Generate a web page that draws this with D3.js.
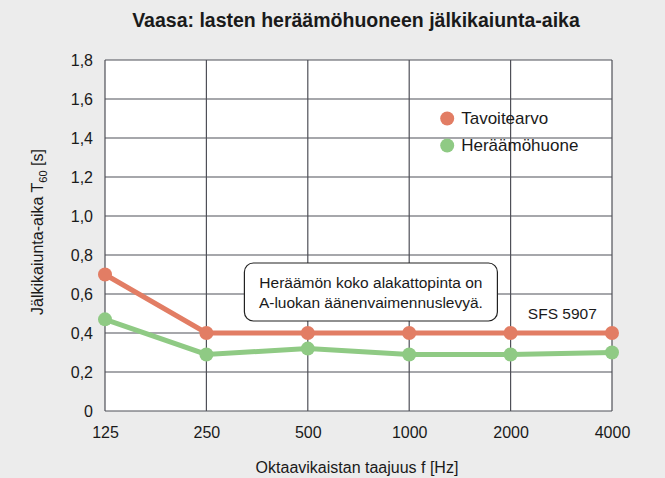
<!DOCTYPE html>
<html>
<head>
<meta charset="utf-8">
<script src="https://cdn.jsdelivr.net/npm/d3@7"></script>
<style>
  body { margin: 0; background: #ececec; }
  text { font-family: "Liberation Sans", Arial, sans-serif; fill: #1a1a1a; }
</style>
</head>
<body>
<div id="chart"></div>
<script>
const frequencies = ["125", "250", "500", "1000", "2000", "4000"];
const targetValues = [0.70, 0.40, 0.40, 0.40, 0.40, 0.40];
const roomValues = [0.47, 0.29, 0.32, 0.29, 0.29, 0.30];
const yTicks = [0, 0.2, 0.4, 0.6, 0.8, 1.0, 1.2, 1.4, 1.6, 1.8];
const seriesNames = ["Tavoitearvo", "Heräämöhuone"];
const seriesColors = ["#e27d64", "#8fca84"];

const width = 665;
const height = 478;
const margin = { top: 60, right: 53, bottom: 67, left: 105 };

const svg = d3.select("#chart").append("svg")
    .attr("width", width)
    .attr("height", height);

const x = d3.scalePoint()
    .domain(frequencies)
    .range([margin.left, width - margin.right]);

const y = d3.scaleLinear()
    .domain([0, 1.8])
    .range([height - margin.bottom, margin.top]);

const fmt = d => d === 0 ? "0" : d3.format(".1f")(d).replace(".", ",");

// plot background
svg.append("rect")
    .attr("x", margin.left)
    .attr("y", margin.top)
    .attr("width", width - margin.left - margin.right)
    .attr("height", height - margin.top - margin.bottom)
    .attr("fill", "#fff");

// grid
svg.append("g")
    .selectAll("line")
    .data(yTicks)
    .enter().append("line")
    .attr("x1", margin.left)
    .attr("x2", width - margin.right)
    .attr("y1", d => y(d))
    .attr("y2", d => y(d))
    .attr("stroke", "#4f5058")
    .attr("stroke-width", 1.2);

svg.append("g")
    .selectAll("line")
    .data(frequencies)
    .enter().append("line")
    .attr("x1", d => x(d))
    .attr("x2", d => x(d))
    .attr("y1", margin.top)
    .attr("y2", height - margin.bottom)
    .attr("stroke", "#4f5058")
    .attr("stroke-width", 1.2);

// axes (labels only)
const yAxis = svg.append("g")
    .attr("transform", `translate(${margin.left},0)`)
    .call(d3.axisLeft(y).tickValues(yTicks).tickFormat(fmt).tickSize(0).tickPadding(12));
yAxis.select(".domain").remove();
yAxis.selectAll("text").style("font-size", "16px").attr("fill", "#1a1a1a");

const xAxis = svg.append("g")
    .attr("transform", `translate(0,${height - margin.bottom})`)
    .call(d3.axisBottom(x).tickSize(0).tickPadding(16));
xAxis.select(".domain").remove();
xAxis.selectAll("text").style("font-size", "16px").attr("fill", "#1a1a1a");

// annotation box
const note = svg.append("g");
note.append("rect")
    .attr("x", x("250") + 38)
    .attr("y", y(0.8) + 8)
    .attr("width", 253)
    .attr("height", 58)
    .attr("rx", 9)
    .attr("fill", "#fff")
    .attr("stroke", "#222")
    .attr("stroke-width", 1.2);
note.append("text")
    .attr("x", x("250") + 38 + 126.5)
    .attr("y", y(0.8) + 33)
    .attr("text-anchor", "middle")
    .style("font-size", "15.5px")
    .selectAll("tspan")
    .data(["Heräämön koko alakattopinta on", "A-luokan äänenvaimennuslevyä."])
    .enter().append("tspan")
    .attr("x", x("250") + 38 + 126.5)
    .attr("dy", (d, i) => i === 0 ? 0 : 20)
    .text(d => d);

svg.append("text")
    .attr("x", (x("2000") + x("4000")) / 2 + 1)
    .attr("y", y(0.4) - 14)
    .attr("text-anchor", "middle")
    .style("font-size", "15.5px")
    .text("SFS 5907");

// series
const line = d3.line()
    .x((d, i) => x(frequencies[i]))
    .y(d => y(d));

[roomValues, targetValues].forEach((vals, k) => {
    const color = seriesColors[1 - k];
    svg.append("path")
        .datum(vals)
        .attr("d", line)
        .attr("fill", "none")
        .attr("stroke", color)
        .attr("stroke-width", 5);
    svg.append("g")
        .selectAll("circle")
        .data(vals)
        .enter().append("circle")
        .attr("cx", (d, i) => x(frequencies[i]))
        .attr("cy", d => y(d))
        .attr("r", 7)
        .attr("fill", color);
});

// legend
const legend = svg.append("g")
    .attr("transform", `translate(${x("1000") + 38},${y(1.5)})`);
const item = legend.selectAll("g")
    .data(seriesNames)
    .enter().append("g")
    .attr("transform", (d, i) => `translate(0,${i * 27})`);
item.append("circle")
    .attr("r", 7)
    .attr("fill", (d, i) => seriesColors[i]);
item.append("text")
    .attr("x", 14)
    .attr("dy", "0.35em")
    .style("font-size", "17px")
    .text(d => d);

// title
svg.append("text")
    .attr("x", 356)
    .attr("y", 27)
    .attr("text-anchor", "middle")
    .style("font-size", "19.5px")
    .style("font-weight", "bold")
    .text("Vaasa: lasten heräämöhuoneen jälkikaiunta-aika");

// axis titles
svg.append("text")
    .attr("x", 357)
    .attr("y", 473)
    .attr("text-anchor", "middle")
    .style("font-size", "16px")
    .text("Oktaavikaistan taajuus f [Hz]");

const yt = svg.append("text")
    .attr("transform", "translate(43,232) rotate(-90)")
    .attr("text-anchor", "middle")
    .style("font-size", "16px");
yt.append("tspan").text("Jälkikaiunta-aika T");
yt.append("tspan").attr("dy", 4).style("font-size", "11px").text("60");
yt.append("tspan").attr("dy", -4).text(" [s]");
</script>
</body>
</html>
